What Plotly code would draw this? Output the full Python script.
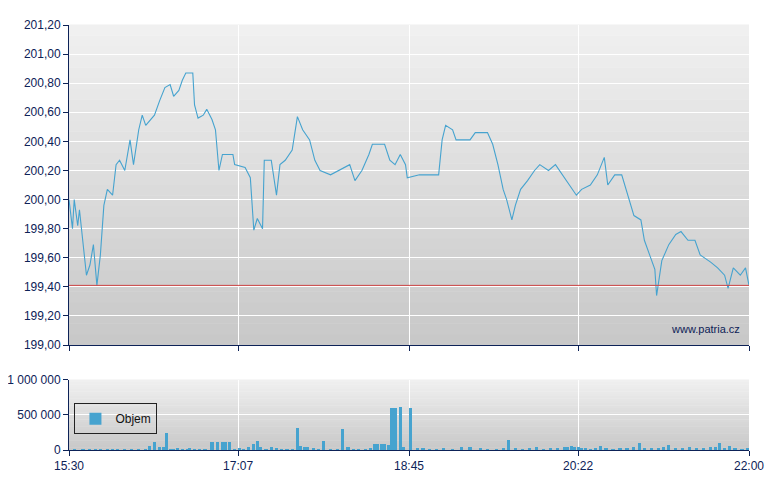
import plotly.graph_objects as go

tick_minutes = [0, 97, 195, 292, 390]
tick_labels = ["15:30", "17:07", "18:45", "20:22", "22:00"]

price_min = [0,2,3,5,6,9,10,12,14,16,18,20,22,25,27,29,32,35,37,40,42,44,47,49,52,55,58,60,63,65,67,71,72,74,77,79,82,84,86,88,94,95,101,104,106,108,111,112,116,119,121,124,128,131,134,138,141,144,150,155,161,164,168,172,174,181,184,187,190,193,194,201,212,214,216,220,222,230,233,240,243,246,249,251,254,256,259,263,267,270,275,279,283,287,291,294,299,303,307,309,313,317,321,324,328,330,333,336,337,340,344,348,351,355,359,362,368,372,376,378,381,385,388,390]
price_val = [200.00,199.80,200.00,199.82,199.93,199.58,199.48,199.55,199.69,199.41,199.62,199.96,200.07,200.03,200.24,200.27,200.20,200.41,200.24,200.48,200.58,200.51,200.55,200.58,200.68,200.77,200.79,200.71,200.75,200.82,200.87,200.87,200.65,200.56,200.58,200.62,200.55,200.48,200.20,200.31,200.31,200.24,200.22,200.15,199.79,199.87,199.80,200.27,200.27,200.03,200.24,200.27,200.34,200.57,200.48,200.41,200.27,200.20,200.17,200.20,200.24,200.13,200.20,200.31,200.38,200.38,200.27,200.24,200.31,200.24,200.15,200.17,200.17,200.41,200.51,200.48,200.41,200.41,200.46,200.46,200.38,200.24,200.07,200.00,199.86,199.96,200.07,200.13,200.20,200.24,200.20,200.24,200.17,200.10,200.03,200.07,200.10,200.17,200.29,200.10,200.17,200.17,200.00,199.89,199.86,199.72,199.62,199.52,199.34,199.58,199.69,199.76,199.78,199.72,199.72,199.62,199.57,199.53,199.48,199.39,199.53,199.48,199.53,199.41]
prev_close = 199.41

vol_min = [3,8,12,15,18,22,25,28,32,36,40,44,46,49,52,54,56,58,60,62,65,68,69,72,75,78,82,85,88,90,92,95,98,100,103,106,108,110,113,116,119,122,125,128,131,133,135,137,140,143,146,150,154,157,160,163,166,170,173,175,177,179,181,183,185,187,190,192,196,200,203,207,211,215,220,225,230,236,240,245,249,252,256,260,264,268,272,276,280,284,286,288,290,292,294,296,299,302,305,308,312,316,320,324,327,330,334,338,341,344,348,352,356,360,364,368,371,373,376,379,382,386,389]
vol_val = [15000,10000,15000,10000,20000,12000,15000,10000,12000,20000,15000,20000,60000,120000,40000,50000,250000,20000,15000,25000,15000,20000,30000,18000,15000,12000,120000,120000,120000,120000,120000,15000,25000,15000,40000,90000,130000,40000,20000,40000,25000,15000,20000,20000,310000,60000,40000,50000,30000,20000,130000,15000,15000,300000,40000,20000,15000,20000,30000,90000,90000,90000,90000,80000,600000,600000,620000,40000,600000,30000,25000,20000,15000,25000,20000,40000,45000,30000,20000,15000,25000,150000,30000,20000,30000,40000,20000,25000,35000,50000,50000,55000,50000,45000,30000,25000,20000,35000,60000,25000,20000,30000,25000,40000,100000,30000,25000,30000,45000,70000,30000,25000,40000,30000,35000,40000,45000,100000,35000,60000,30000,20000,25000]

navy = "#0d2257"
blue = "#46a3cf"

fig = go.Figure()
fig.add_trace(go.Scatter(x=price_min, y=price_val, mode="lines", line=dict(color=blue, width=1.1),
                         showlegend=False, xaxis="x", yaxis="y"))
fig.add_trace(go.Scatter(x=[0, 390], y=[prev_close, prev_close], mode="lines",
                         line=dict(color="#cc4444", width=1), showlegend=False, xaxis="x", yaxis="y"))
fig.add_trace(go.Bar(x=vol_min, y=vol_val, name="Objem", marker=dict(color=blue, line=dict(width=0)),
                     width=1.8, xaxis="x2", yaxis="y2"))

shapes = []
n = 30
pd_lo, pd_hi = 0.247, 1.0
vd_lo, vd_hi = 0.0, 0.165
for dom_lo, dom_hi in [(pd_lo, pd_hi), (vd_lo, vd_hi)]:
    for i in range(n):
        g = int(200 + 41 * (i + 0.5) / n)
        shapes.append(dict(type="rect", xref="paper", yref="paper", x0=0, x1=1,
                           y0=dom_lo + (dom_hi - dom_lo) * i / n, y1=dom_lo + (dom_hi - dom_lo) * (i + 1) / n + 0.001,
                           fillcolor=f"rgb({g},{g},{g})", line=dict(width=0), layer="below"))

axis_common = dict(showline=True, linecolor=navy, linewidth=1, ticks="outside", tickcolor=navy, ticklen=5,
                   tickfont=dict(family="Liberation Sans, Arial", size=12, color=navy),
                   gridcolor="white", gridwidth=1, zeroline=False)

fig.update_layout(
    width=772, height=482, margin=dict(l=61, r=31, t=17, b=40, autoexpand=False),
    paper_bgcolor="white", plot_bgcolor="rgba(0,0,0,0)",
    separators=", ", shapes=shapes, bargap=0,
    xaxis=dict(domain=[0, 1], range=[0, 390], tickvals=tick_minutes, ticktext=["", "", "", "", ""],
               anchor="y", **axis_common),
    yaxis=dict(domain=[pd_lo, pd_hi], range=[199.0, 201.2], dtick=0.2, tickformat=".2f", anchor="x", **axis_common),
    xaxis2=dict(domain=[0, 1], range=[0, 390], tickvals=tick_minutes, ticktext=tick_labels, anchor="y2",
                **axis_common),
    yaxis2=dict(domain=[vd_lo, vd_hi], range=[0, 1000000], tickvals=[0, 500000, 1000000], tickformat=",d",
                anchor="x2", **axis_common),
    legend=dict(x=0.008, y=0.11, xanchor="left", yanchor="top", bgcolor="rgba(0,0,0,0)", bordercolor="#222",
                borderwidth=1, itemwidth=30, itemsizing="constant", tracegroupgap=0,
                font=dict(family="Liberation Sans, Arial", size=12, color="#111")),
    annotations=[dict(text="www.patria.cz", xref="paper", yref="paper", x=0.99, y=0.285, xanchor="right",
                      yanchor="middle", showarrow=False, font=dict(family="Liberation Sans, Arial", size=11, color=navy))],
)
fig.write_html("out.html")
